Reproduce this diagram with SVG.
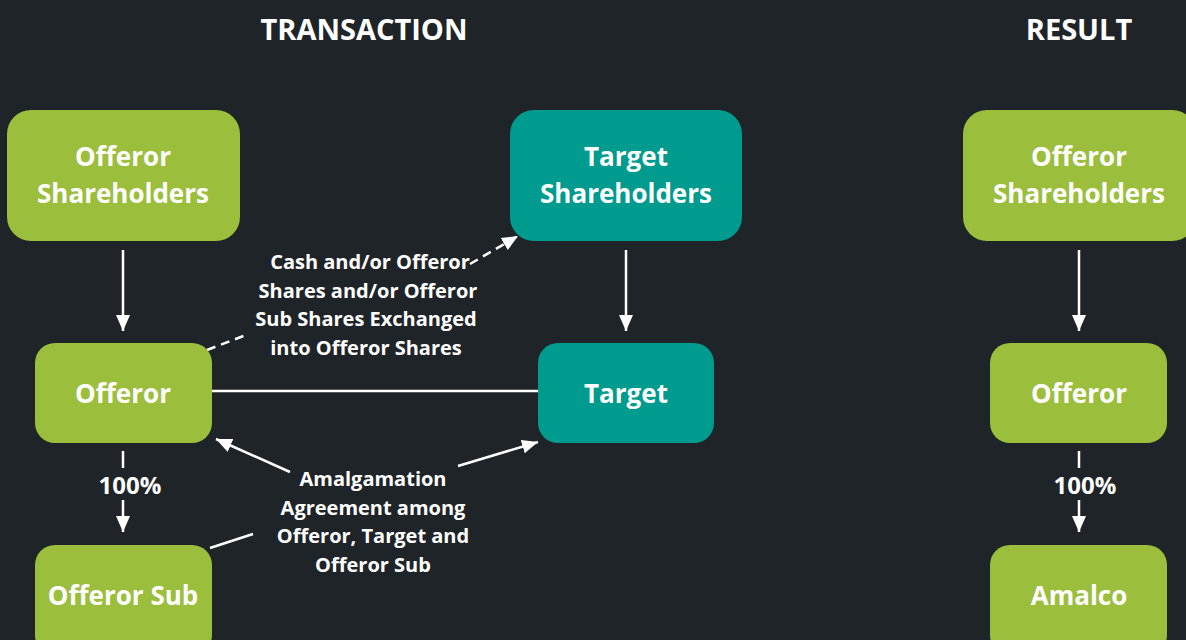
<svg xmlns="http://www.w3.org/2000/svg" width="1186" height="640" viewBox="0 0 1186 640">
  <defs>
    <style>
      .bg { fill: #1f2428; }
      .green { fill: #9bbe3c; }
      .teal { fill: #009b8f; }
      .title { font-family: "Open Sans", Lato, sans-serif; font-weight: bold; font-size: 29px; fill: #ffffff; text-anchor: middle; }
      .node { font-family: "Open Sans", Lato, sans-serif; font-weight: bold; font-size: 26px; fill: #ffffff; text-anchor: middle; }
      .label { font-family: "Open Sans", Lato, sans-serif; font-weight: bold; font-size: 20px; fill: #ffffff; text-anchor: middle; }
      .pct { font-family: "Open Sans", Lato, sans-serif; font-weight: bold; font-size: 24px; fill: #ffffff; text-anchor: middle; }
      .line { stroke: #ffffff; stroke-width: 2.5; fill: none; }
      .dash { stroke: #ffffff; stroke-width: 2.5; fill: none; stroke-dasharray: 9 6; }
    </style>
    <marker id="head" viewBox="0 0 16 16" refX="16" refY="8" markerWidth="16" markerHeight="16" markerUnits="userSpaceOnUse" orient="auto">
      <path d="M0,1 L16,8 L0,15 Z" fill="#ffffff"/>
    </marker>
  </defs>

  <rect class="bg" x="0" y="0" width="1186" height="640"/>

  <text class="title" x="364" y="40">TRANSACTION</text>
  <text class="title" x="1079" y="40">RESULT</text>

  <!-- connectors -->
  <g id="connectors">
    <line class="line" x1="123" y1="250" x2="123" y2="331" marker-end="url(#head)"/>
    <line class="line" x1="626" y1="250" x2="626" y2="331" marker-end="url(#head)"/>
    <line class="line" x1="1079" y1="250" x2="1079" y2="331" marker-end="url(#head)"/>

    <line class="line" x1="123" y1="451" x2="123" y2="468"/>
    <text class="pct" x="130" y="494">100%</text>
    <line class="line" x1="123" y1="500" x2="123" y2="532" marker-end="url(#head)"/>

    <line class="line" x1="1079" y1="451" x2="1079" y2="468"/>
    <text class="pct" x="1085" y="494">100%</text>
    <line class="line" x1="1079" y1="500" x2="1079" y2="532" marker-end="url(#head)"/>

    <line class="line" x1="212" y1="391" x2="538" y2="391"/>

    <line class="dash" x1="207" y1="350" x2="246" y2="335"/>
    <line class="dash" x1="470" y1="264" x2="518" y2="236" marker-end="url(#head)"/>

    <line class="line" x1="290" y1="472" x2="216" y2="439" marker-end="url(#head)"/>
    <line class="line" x1="458" y1="466" x2="538" y2="442" marker-end="url(#head)"/>
    <line class="line" x1="210" y1="548" x2="253" y2="534"/>

    <text class="label" x="370" y="269">Cash and/or Offeror</text>
    <text class="label" x="368" y="298">Shares and/or Offeror</text>
    <text class="label" x="366" y="326">Sub Shares Exchanged</text>
    <text class="label" x="366" y="355">into Offeror Shares</text>

    <text class="label" x="373" y="486">Amalgamation</text>
    <text class="label" x="373" y="515">Agreement among</text>
    <text class="label" x="373" y="543">Offeror, Target and</text>
    <text class="label" x="373" y="572">Offeror Sub</text>
  </g>

  <!-- transaction side -->
  <g id="offeror-shareholders">
    <rect class="green" x="7" y="110" width="233" height="131" rx="24"/>
    <text class="node" x="123" y="166">Offeror</text>
    <text class="node" x="123" y="203">Shareholders</text>
  </g>
  <g id="target-shareholders">
    <rect class="teal" x="510" y="110" width="232" height="131" rx="24"/>
    <text class="node" x="626" y="166">Target</text>
    <text class="node" x="626" y="203">Shareholders</text>
  </g>
  <g id="offeror">
    <rect class="green" x="35" y="343" width="177" height="100" rx="20"/>
    <text class="node" x="123" y="403">Offeror</text>
  </g>
  <g id="target">
    <rect class="teal" x="538" y="343" width="176" height="100" rx="20"/>
    <text class="node" x="626" y="403">Target</text>
  </g>
  <g id="offeror-sub">
    <rect class="green" x="35" y="545" width="177" height="110" rx="20"/>
    <text class="node" x="123" y="605">Offeror Sub</text>
  </g>

  <!-- result side -->
  <g id="result-offeror-shareholders">
    <rect class="green" x="963" y="110" width="233" height="131" rx="24"/>
    <text class="node" x="1079" y="166">Offeror</text>
    <text class="node" x="1079" y="203">Shareholders</text>
  </g>
  <g id="result-offeror">
    <rect class="green" x="990" y="343" width="177" height="100" rx="20"/>
    <text class="node" x="1079" y="403">Offeror</text>
  </g>
  <g id="amalco">
    <rect class="green" x="990" y="545" width="177" height="110" rx="20"/>
    <text class="node" x="1079" y="605">Amalco</text>
  </g>
</svg>
